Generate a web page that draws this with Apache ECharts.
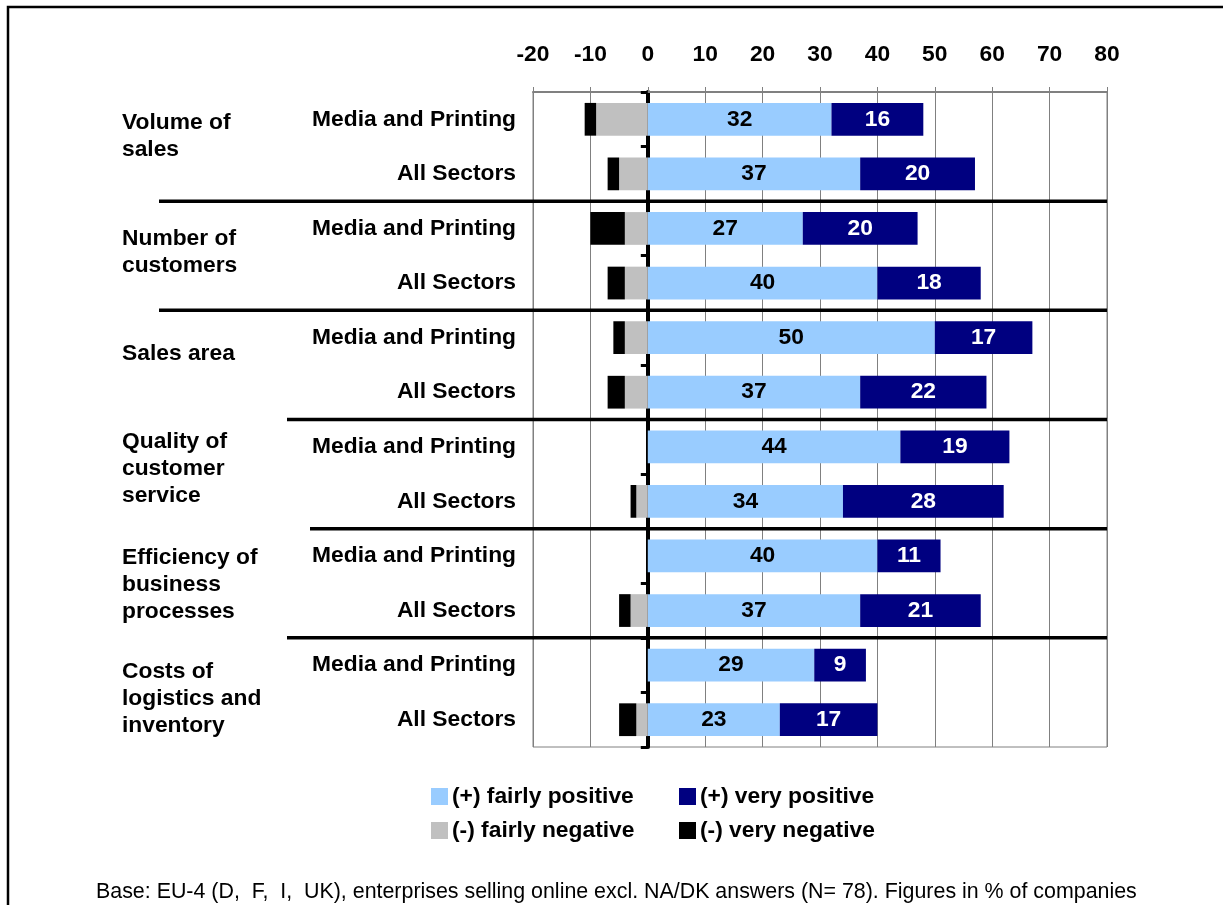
<!DOCTYPE html>
<html>
<head>
<meta charset="utf-8">
<script src="https://cdn.jsdelivr.net/npm/echarts@6/dist/echarts.min.js"></script>
<style>
  html, body { margin: 0; padding: 0; background: #ffffff; }
  #chart { width: 1223px; height: 905px; }
</style>
</head>
<body>
<div id="chart"></div>
<script>
// Survey topics (each has one row per sector)
const groups = [
  'Volume of\nsales',
  'Number of\ncustomers',
  'Sales area',
  'Quality of\ncustomer\nservice',
  'Efficiency of\nbusiness\nprocesses',
  'Costs of\nlogistics and\ninventory'
];
const sectors = ['Media and Printing', 'All Sectors'];

// Shares of companies in %, one value per row (topic x sector), top to bottom
const fairlyPositive = [32, 37, 27, 40, 50, 37, 44, 34, 40, 37, 29, 23];
const veryPositive   = [16, 20, 20, 18, 17, 22, 19, 28, 11, 21, 9, 17];
const fairlyNegative = [-9, -5, -4, -4, -4, -4, null, -2, null, -3, null, -2];
const veryNegative   = [-2, -2, -6, -3, -2, -3, null, -1, null, -2, null, -3];

// Value axis ticks
const xMin = -20, xMax = 80, xStep = 10;

// Legend names
const seriesNames = ['(+) fairly positive', '(+) very positive', '(-) fairly negative', '(-) very negative'];

const footnote = 'Base: EU-4 (D,  F,  I,  UK), enterprises selling online excl. NA/DK answers (N= 78). Figures in % of companies';

// Layout: where each topic separator starts on the left, and a small
// vertical nudge for each topic caption
const separatorStart = [159, 159, 287, 310, 287];
const captionShift = [-10, -4, -11, -5, 1, 6];

const FONT = '"Liberation Sans", Arial, Helvetica, sans-serif';
const FS = 22.8;
const rows = [];
groups.forEach(g => sectors.forEach(s => rows.push(g.replace(/\n/g, ' ') + ' | ' + s)));

const chart = echarts.init(document.getElementById('chart'), null, { renderer: 'canvas' });

const barLabel = (color) => ({
  show: true,
  position: 'inside',
  color: color,
  fontFamily: FONT,
  fontWeight: 'bold',
  fontSize: FS
});

const legendText = { color: '#000', fontFamily: FONT, fontWeight: 'bold', fontSize: FS, lineHeight: 22, padding: [0, 0, 0, -1] };

const option = {
  animation: false,
  backgroundColor: '#ffffff',
  textStyle: { fontFamily: FONT },
  grid: {
    left: 533, right: 116, top: 92, bottom: 158,
    show: true, borderColor: '#808080', borderWidth: 1, backgroundColor: 'transparent',
    containLabel: false
  },
  xAxis: {
    type: 'value',
    position: 'top',
    min: xMin, max: xMax, interval: xStep,
    axisLine: { show: true, lineStyle: { color: '#808080', width: 2 } },
    axisTick: { show: true, length: 5, lineStyle: { color: '#808080', width: 1 } },
    splitLine: { show: true, lineStyle: { color: '#808080', width: 1 } },
    axisLabel: {
      margin: 26, color: '#000', fontFamily: FONT, fontWeight: 'bold', fontSize: FS
    }
  },
  yAxis: {
    type: 'category',
    inverse: true,
    data: rows,
    axisLine: { show: true, onZero: true, lineStyle: { color: '#000', width: 4 } },
    axisTick: { show: true, length: 7, lineStyle: { color: '#000', width: 3 } },
    splitLine: { show: false },
    axisLabel: {
      margin: 17,
      color: '#000', fontFamily: FONT, fontWeight: 'bold', fontSize: FS,
      formatter: v => v.split(' | ')[1]
    }
  },
  legend: [
    {
      data: [seriesNames[0], seriesNames[2]],
      orient: 'vertical', left: 431, top: 785, padding: 0,
      itemWidth: 17, itemHeight: 17, itemGap: 11,
      icon: 'rect',
      textStyle: legendText,
      selectedMode: false
    },
    {
      data: [seriesNames[1], seriesNames[3]],
      orient: 'vertical', left: 679, top: 785, padding: 0,
      itemWidth: 17, itemHeight: 17, itemGap: 11,
      icon: 'rect',
      textStyle: legendText,
      selectedMode: false
    }
  ],
  graphic: [
    {
      type: 'rect', silent: true,
      shape: { x: 8, y: 7, width: 1240, height: 940 },
      style: { fill: 'none', stroke: '#000', lineWidth: 2.5 }
    },
    {
      type: 'text', silent: true, left: 96, top: 882,
      style: { text: footnote, fill: '#000', font: '21.4px ' + FONT }
    }
  ],
  series: [
    {
      name: seriesNames[0], type: 'bar', stack: 'total', barWidth: '60%',
      itemStyle: { color: '#99CCFF' }, label: barLabel('#000'), data: fairlyPositive
    },
    {
      name: seriesNames[1], type: 'bar', stack: 'total',
      itemStyle: { color: '#000080' }, label: barLabel('#fff'), data: veryPositive
    },
    {
      name: seriesNames[2], type: 'bar', stack: 'total',
      itemStyle: { color: '#C0C0C0' }, data: fairlyNegative
    },
    {
      name: seriesNames[3], type: 'bar', stack: 'total',
      itemStyle: { color: '#000000' }, data: veryNegative
    },
    {
      // Topic captions on the left and the separators between topics
      type: 'custom',
      name: 'topics',
      z: 10,
      silent: true,
      encode: { x: 0, y: 1 },
      data: groups.map((g, i) => [0, 2 * i]),
      renderItem: function (params, api) {
        const gi = params.dataIndex;
        const first = api.coord([0, 2 * gi]);
        const second = api.coord([0, 2 * gi + 1]);
        const band = api.size([0, 1])[1];
        const cy = (first[1] + second[1]) / 2;
        const children = [{
          type: 'text',
          style: {
            x: 122, y: cy + captionShift[gi],
            text: groups[gi],
            fill: '#000',
            fontFamily: FONT, fontWeight: 'bold', fontSize: FS,
            lineHeight: 27,
            align: 'left', verticalAlign: 'middle'
          }
        }];
        if (gi < groups.length - 1) {
          const yb = second[1] + band / 2;
          const xr = api.coord([xMax, 0])[0];
          children.push({
            type: 'line',
            shape: { x1: separatorStart[gi], y1: yb, x2: xr, y2: yb },
            style: { stroke: '#000', lineWidth: 3.5 }
          });
        }
        return { type: 'group', children: children };
      }
    }
  ]
};

chart.setOption(option);
</script>
</body>
</html>
